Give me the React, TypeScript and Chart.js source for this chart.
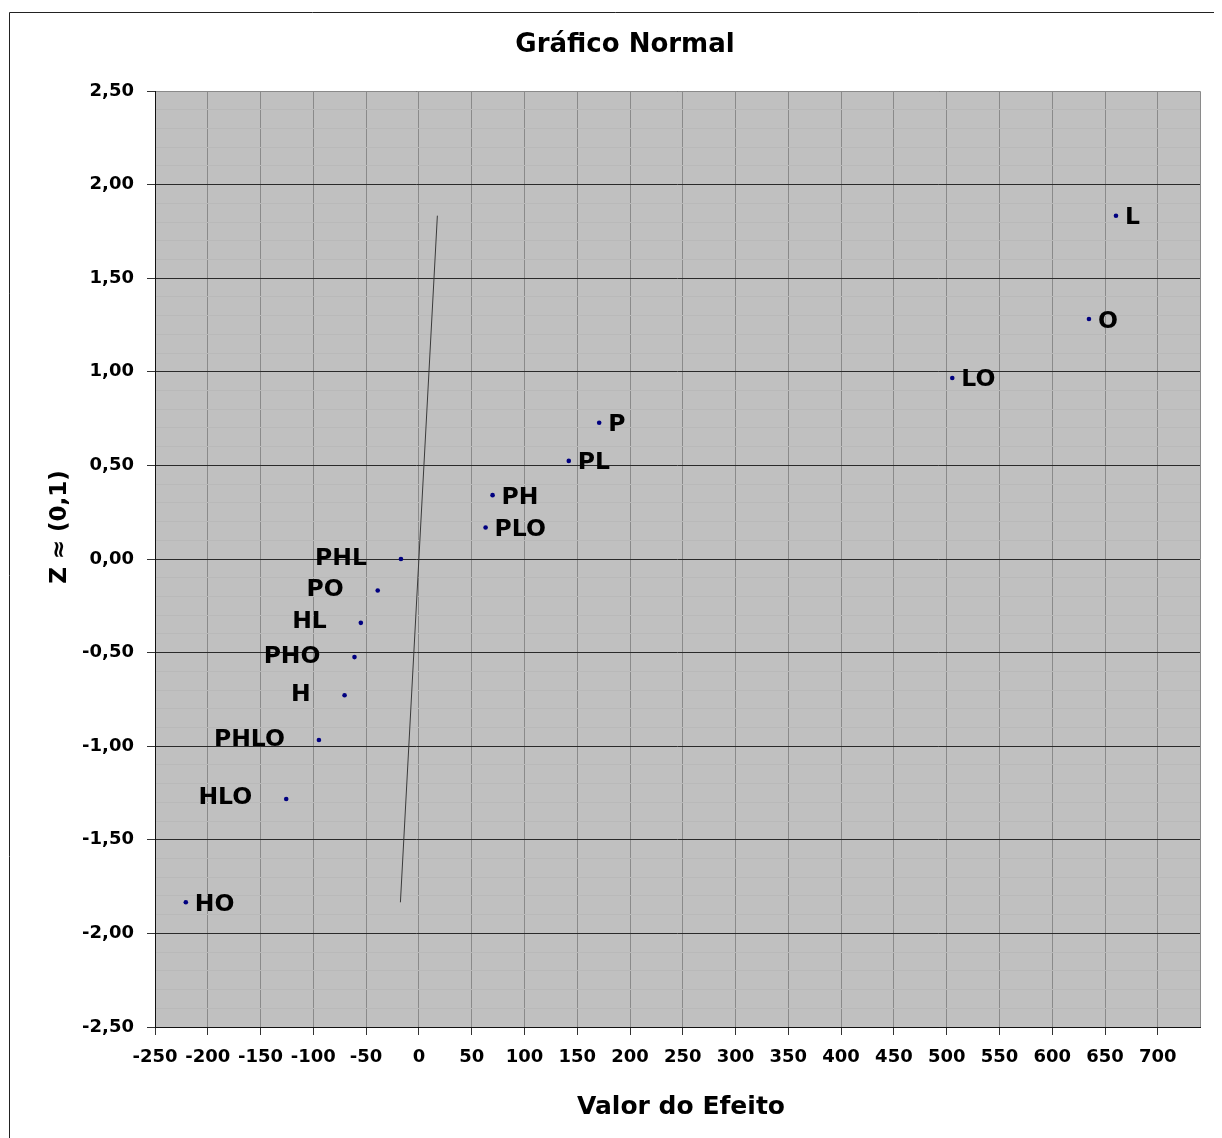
import React, { useEffect, useRef } from "react";
import { Chart, registerables } from "chart.js";

Chart.register(...registerables);

const effectLabels = ["HO", "HLO", "PHLO", "H", "PHO", "HL", "PO", "PHL", "PLO", "PH", "PL", "P", "LO", "O", "L"];
const effectValues = [-220.8, -125.7, -94.7, -70.4, -61, -55, -39, -17, 63.2, 69.8, 142, 170.8, 505.3, 634.8, 660.4];
const zValues = [-1.834, -1.282, -0.967, -0.728, -0.524, -0.341, -0.168, 0, 0.168, 0.341, 0.524, 0.728, 0.967, 1.282, 1.834];
const labelSides = ["right", "left", "left", "left", "left", "left", "left", "left", "right", "right", "right", "right", "right", "right", "right"];
const refLineX = [-17.5, 17.5];
const refLineZ = [-1.834, 1.834];

const chartTitle = "Gráfico Normal";
const xTitle = "Valor do Efeito";
const yTitle = "Z ≈ (0,1)";

const FONT = "'DejaVu Sans', sans-serif";

const decorPlugin = {
  id: "decor",
  beforeDraw(chart: any) {
    const { ctx, chartArea: a } = chart;
    ctx.save();
    ctx.fillStyle = "#ffffff";
    ctx.fillRect(0, 0, chart.width, chart.height);
    ctx.fillStyle = "#C0C0C0";
    ctx.fillRect(a.left, a.top, a.right - a.left, a.bottom - a.top);
    ctx.strokeStyle = "#222";
    ctx.lineWidth = 1;
    ctx.beginPath();
    ctx.moveTo(1.5, chart.height);
    ctx.lineTo(1.5, 4.5);
    ctx.lineTo(chart.width, 4.5);
    ctx.stroke();
    ctx.restore();
  },
  afterDatasetsDraw(chart: any) {
    const { ctx, chartArea: a } = chart;
    ctx.save();
    ctx.lineWidth = 1;
    ctx.strokeStyle = "#8a8a8a";
    ctx.beginPath();
    ctx.moveTo(a.left, a.top + 0.5);
    ctx.lineTo(a.right + 0.5, a.top + 0.5);
    ctx.lineTo(a.right + 0.5, a.bottom);
    ctx.stroke();
    ctx.strokeStyle = "#111";
    ctx.beginPath();
    ctx.moveTo(a.left + 0.5, a.top);
    ctx.lineTo(a.left + 0.5, a.bottom + 0.5);
    ctx.lineTo(a.right + 1, a.bottom + 0.5);
    ctx.stroke();

    const xs = chart.scales.x;
    const ys = chart.scales.y;
    ctx.font = `bold 23.5px ${FONT}`;
    ctx.fillStyle = "#000";
    ctx.textBaseline = "alphabetic";
    effectLabels.forEach((lab, i) => {
      const px = xs.getPixelForValue(effectValues[i]);
      const py = ys.getPixelForValue(zValues[i]);
      const base = py + 8.5;
      if (labelSides[i] === "left") {
        ctx.textAlign = "right";
        ctx.fillText(lab, px - 34, base - 3);
      } else {
        ctx.textAlign = "left";
        ctx.fillText(lab, px + 9, base);
      }
    });

    ctx.textAlign = "center";
    ctx.textBaseline = "middle";
    ctx.font = `bold 26px ${FONT}`;
    ctx.fillText(chartTitle, 617, 37);
    ctx.font = `bold 25px ${FONT}`;
    ctx.fillText(xTitle, 673, 1099);
    ctx.save();
    ctx.translate(52, 519);
    ctx.rotate(-Math.PI / 2);
    ctx.font = `bold 23px ${FONT}`;
    ctx.fillText(yTitle, 0, 0);
    ctx.restore();
    ctx.restore();
  },
};

const isMajorY = (v: number) => Math.round(v * 10) % 5 === 0;

export default function App() {
  const ref = useRef<HTMLCanvasElement>(null);
  useEffect(() => {
    if (!ref.current) return;
    const chart = new Chart(ref.current, {
      type: "scatter",
      data: {
        datasets: [
          {
            type: "line",
            data: refLineX.map((x, i) => ({ x, y: refLineZ[i] })),
            borderColor: "#3a3a3a",
            borderWidth: 1,
            pointRadius: 0,
            fill: false,
          } as any,
          {
            data: effectValues.map((x, i) => ({ x, y: zValues[i] })),
            backgroundColor: "#000080",
            borderColor: "#000080",
            pointRadius: 2.3,
            borderWidth: 0,
          },
        ],
      },
      options: {
        responsive: false,
        animation: false,
        layout: { padding: { left: 0, top: 83, right: 22, bottom: 0 } },
        plugins: { legend: { display: false }, title: { display: false }, tooltip: { enabled: false } },
        scales: {
          x: {
            type: "linear",
            min: -250,
            max: 740,
            afterFit: (s: any) => {
              s.height = 111;
            },
            ticks: {
              stepSize: 50,
              includeBounds: false,
              autoSkip: false,
              maxRotation: 0,
              padding: 12,
              color: "#000",
              font: { family: FONT, size: 18, weight: "bold" },
              callback: (v: any) => String(Math.round(Number(v))),
            },
            grid: { color: "#8a8a8a", tickColor: "#333", tickLength: 8, lineWidth: 1 },
            border: { display: false },
          },
          y: {
            type: "linear",
            min: -2.5,
            max: 2.5,
            afterFit: (s: any) => {
              s.width = 147;
            },
            ticks: {
              stepSize: 0.1,
              autoSkip: false,
              padding: 13,
              color: "#000",
              font: { family: FONT, size: 18, weight: "bold" },
              callback: (v: any) => {
                const r = Math.round(Number(v) * 10);
                if (r % 5 !== 0) return "";
                return (r / 10).toFixed(2).replace(".", ",");
              },
            },
            grid: {
              color: (c: any) => (isMajorY(c.tick.value) ? "#2a2a2a" : "#b9b9b9"),
              tickColor: (c: any) => (isMajorY(c.tick.value) ? "#333" : "rgba(0,0,0,0)"),
              tickLength: 8,
              lineWidth: 1,
            },
            border: { display: false },
          },
        },
      },
      plugins: [decorPlugin],
    } as any);
    return () => chart.destroy();
  }, []);
  return <canvas ref={ref} width={1214} height={1130} style={{ display: "block" }} />;
}
